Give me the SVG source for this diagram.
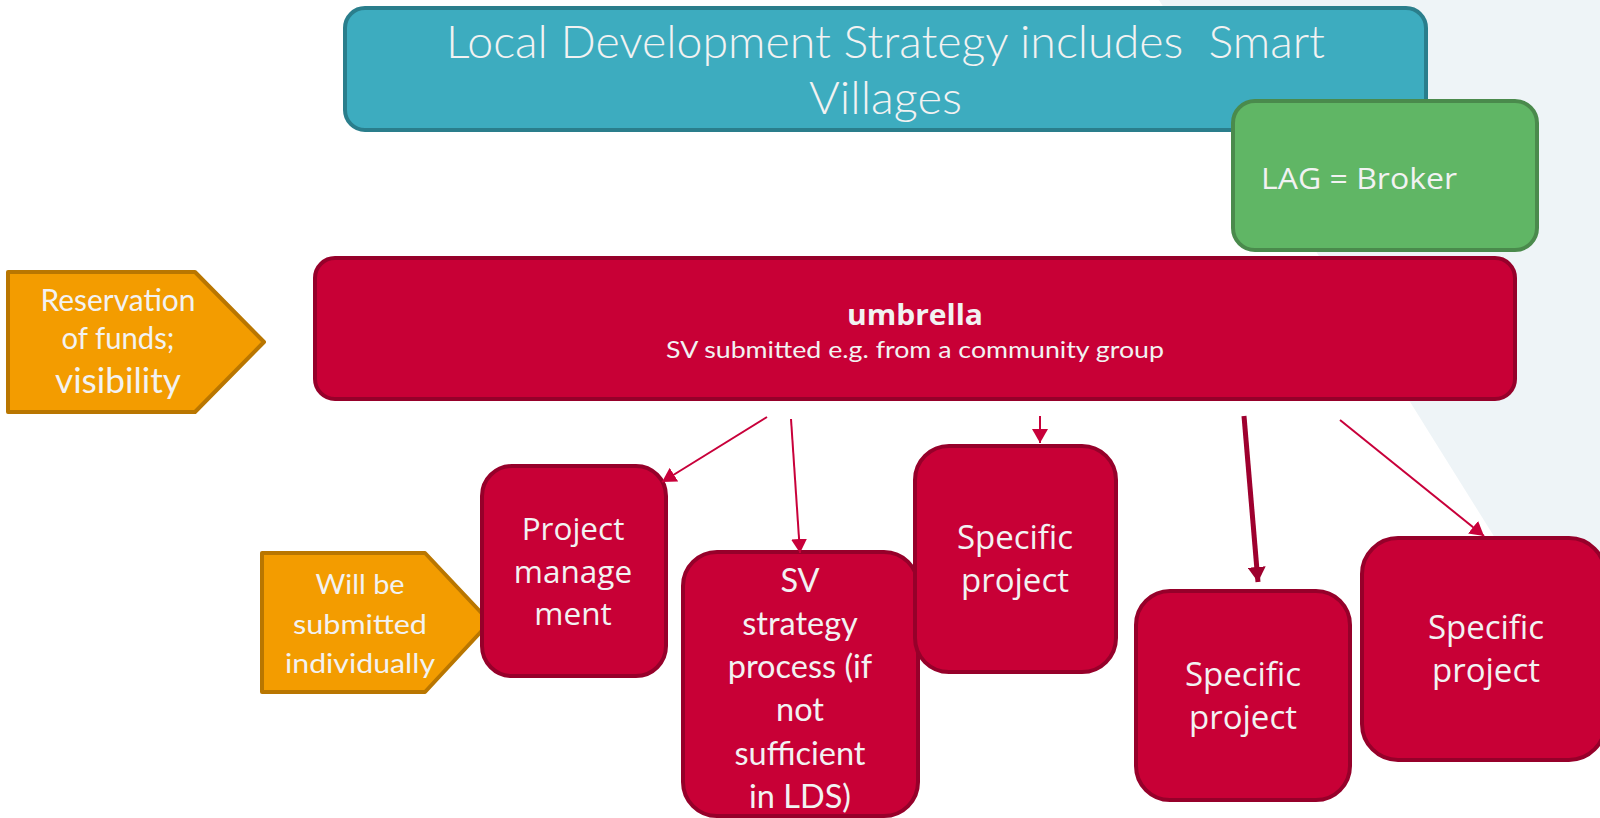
<svg xmlns="http://www.w3.org/2000/svg" width="1600" height="818" viewBox="0 0 1600 818">
<style>
.red{fill:#C80036;stroke:#96002A;stroke-width:4}
.org{fill:#F39C00;stroke:#B97600;stroke-width:4;stroke-linejoin:round}
.t{fill:#F2F2F2;text-anchor:middle}
.seg{font-family:"Open Sans","Noto Sans",sans-serif}
.cal{font-family:Lato,"Liberation Sans",sans-serif}
.ln{stroke:#C8003A;stroke-width:2;fill:none}
</style>
<defs>
<marker id="ah" markerUnits="userSpaceOnUse" markerWidth="16" markerHeight="16" refX="14" refY="8" orient="auto">
<path d="M0,0 L14,8 L0,16 z" fill="#C8003A"/>
</marker>
<marker id="ahd" markerUnits="userSpaceOnUse" markerWidth="18" markerHeight="18" refX="15" refY="9" orient="auto">
<path d="M0,0 L15,9 L0,18 z" fill="#9E002E"/>
</marker>
</defs>
<rect width="1600" height="818" fill="#FFFFFF"/>
<polygon points="1159,0 1600,0 1600,706" fill="#EEF4F7"/>

<g id="lds">
<rect x="345" y="8" width="1081" height="122" rx="20" fill="#3DACBF" stroke="#2A7E8C" stroke-width="4"/>
<text class="t cal" x="885.5" y="58" font-size="45" font-weight="300" textLength="879" lengthAdjust="spacingAndGlyphs" style="white-space:pre">Local Development Strategy includes  Smart</text>
<text class="t cal" x="885.5" y="114" font-size="45" font-weight="300" textLength="153" lengthAdjust="spacingAndGlyphs">Villages</text>
</g>

<g id="lag">
<rect x="1233" y="101" width="304" height="149" rx="22" fill="#60B665" stroke="#4A8A4C" stroke-width="4"/>
<text class="seg" x="1261" y="189" font-size="30" fill="#F2F2F2" textLength="196" lengthAdjust="spacingAndGlyphs">LAG = Broker</text>
</g>

<g id="umbrella">
<rect class="red" x="315" y="258" width="1200" height="141" rx="20"/>
<text class="t seg" x="915" y="325" font-size="28" font-weight="bold" textLength="136" lengthAdjust="spacingAndGlyphs">umbrella</text>
<text class="t cal" x="915" y="358" font-size="24" textLength="498" lengthAdjust="spacingAndGlyphs">SV submitted e.g. from a community group</text>
</g>

<g id="reservation">
<polygon class="org" points="8,272 195,272 264,342 195,412 8,412"/>
<text class="t cal" x="118" y="311" font-size="30" textLength="155" lengthAdjust="spacingAndGlyphs">Reservation</text>
<text class="t cal" x="118" y="349" font-size="30" textLength="113" lengthAdjust="spacingAndGlyphs">of funds;</text>
<text class="t cal" x="118" y="393" font-size="34" textLength="126" lengthAdjust="spacingAndGlyphs">visibility</text>
</g>

<g id="individually">
<polygon class="org" points="262,553 425,553 490,622 425,692 262,692"/>
<text class="t cal" x="360" y="594" font-size="27" textLength="89" lengthAdjust="spacingAndGlyphs">Will be</text>
<text class="t cal" x="360" y="634" font-size="27" textLength="134" lengthAdjust="spacingAndGlyphs">submitted</text>
<text class="t cal" x="360" y="673" font-size="27" textLength="150" lengthAdjust="spacingAndGlyphs">individually</text>
</g>

<g id="project-management">
<rect class="red" x="482" y="466" width="184" height="210" rx="30"/>
<text class="t seg" x="573" y="540" font-size="31.5">Project</text>
<text class="t seg" x="573" y="583" font-size="31.5">manage</text>
<text class="t seg" x="573" y="625" font-size="31.5">ment</text>
</g>

<g id="sv-strategy">
<rect class="red" x="683" y="552" width="235" height="264" rx="34"/>
<text class="t cal" x="800" y="592" font-size="32.5">SV</text>
<text class="t cal" x="800" y="635" font-size="32.5">strategy</text>
<text class="t cal" x="800" y="678" font-size="32.5">process (if</text>
<text class="t cal" x="800" y="721" font-size="32.5">not</text>
<text class="t cal" x="800" y="765" font-size="32.5">sufficient</text>
<text class="t cal" x="800" y="808" font-size="32.5">in LDS)</text>
</g>

<g id="specific-1">
<rect class="red" x="915" y="446" width="201" height="226" rx="34"/>
<text class="t seg" x="1015" y="549" font-size="33">Specific</text>
<text class="t seg" x="1015" y="592" font-size="33">project</text>
</g>

<g id="specific-2">
<rect class="red" x="1136" y="591" width="214" height="209" rx="34"/>
<text class="t seg" x="1243" y="686" font-size="33">Specific</text>
<text class="t seg" x="1243" y="729" font-size="33">project</text>
</g>

<g id="specific-3">
<rect class="red" x="1362" y="538" width="243" height="222" rx="36"/>
<text class="t seg" x="1486" y="639" font-size="33">Specific</text>
<text class="t seg" x="1486" y="682" font-size="33">project</text>
</g>

<g id="connectors">
<line class="ln" x1="767" y1="417" x2="662" y2="482" marker-end="url(#ah)"/>
<line class="ln" x1="791" y1="419" x2="800" y2="553" marker-end="url(#ah)"/>
<line class="ln" x1="1040" y1="416" x2="1040" y2="443" marker-end="url(#ah)"/>
<line x1="1244" y1="416" x2="1258" y2="582" stroke="#9E002E" stroke-width="5" marker-end="url(#ahd)"/>
<line class="ln" x1="1340" y1="420" x2="1484" y2="536" marker-end="url(#ah)"/>
</g>
</svg>
